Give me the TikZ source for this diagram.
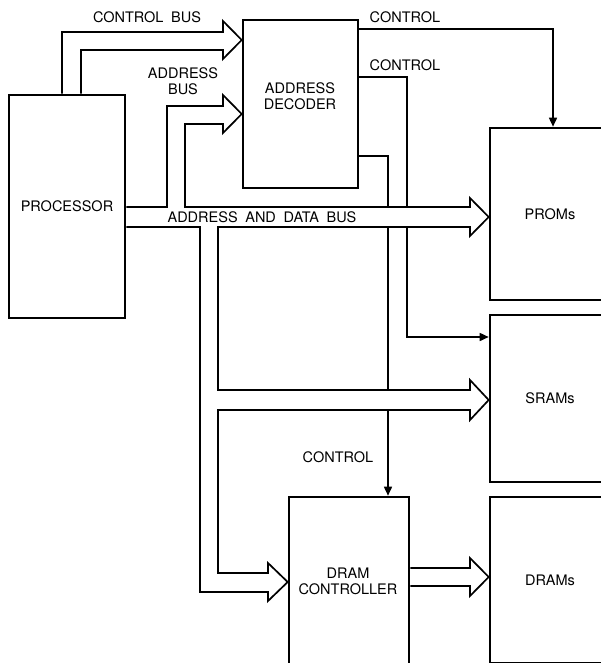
\documentclass[tikz,border=0pt]{standalone}
\usepackage{fontspec}
\setmainfont{TeX Gyre Heros}[WordSpace=1.9]
\usepackage{tikz}
\usetikzlibrary{arrows.meta}

\begin{document}
\begin{tikzpicture}[x=1pt, y=-1pt,
    font=\fontsize{14.5}{16}\selectfont,
    unit/.style={draw, line width=2.6pt, inner sep=0pt, align=center},
    lbl/.style={inner sep=0pt, align=center},
    bus/.style={draw, line width=1.7pt, fill=white, line join=miter},
    ctl/.style={draw, line width=1.6pt, -{Triangle[length=9pt, width=8pt]}}]
  \useasboundingbox (0,0) rectangle (601,663);
  \clip (0,0) rectangle (601,663);

  % blocks
  \node[unit, minimum width=116pt, minimum height=223pt] (proc) at (67,206.5) {PROCESSOR};
  \node[unit, minimum width=115pt, minimum height=168pt] (dec) at (300.5,104) {};
  \node[unit, minimum width=120pt, minimum height=172pt] (proms) at (550,214) {PROMs};
  \node[unit, minimum width=120pt, minimum height=167pt] (srams) at (550,398.5) {SRAMs};
  \node[unit, minimum width=120pt, minimum height=166pt] (drams) at (550,580) {DRAMs};
  \node[unit, minimum width=120pt, minimum height=173pt] (ctrl) at (349,583.5) {};
  \node[lbl] (dectext) at (300,96) {ADDRESS\\DECODER};
  \node[lbl] (ctrltext) at (348,581) {DRAM\\CONTROLLER};

  % control lines from the decoder
  \draw[ctl] (dec.east |- 0,29) -| (proms.north -| 553,0);
  \draw[ctl] (dec.east |- 0,77) -| (407,337) -- (srams.west |- 0,337);
  \draw[ctl] (dec.east |- 0,156) -| (ctrl.north -| 388,0);

  % control bus
  \draw[bus, fill=none] (proc.north -| 62,0) |- (223,32) -- (223,21) -- (dec.west |- 0,40)
    -- (223,59) -- (223,50) -| (proc.north -| 81,0);

  % address bus + address and data bus
  \draw[bus] (proc.east |- 0,207) -| (167,106) -- (223,106) -- (223,95) -- (dec.west |- 0,114)
    -- (223,133) -- (223,124) -| (185,207) -- (470,207) -- (470,198) -- (proms.west |- 0,217)
    -- (470,236) -- (470,227) -| (218,390) -- (470,390) -- (470,380) -- (srams.west |- 0,400)
    -- (470,420) -- (470,410) -| (218,573) -- (268,573) -- (268,563) -- (ctrl.west |- 0,582)
    -- (268,601) -- (268,592) -| (200,227) -- (proc.east |- 0,227);

  % DRAM bus
  \draw[bus] (ctrl.east |- 0,568) -- (470,568) -- (470,558) -- (drams.west |- 0,577)
    -- (470,596) -- (470,586) -- (ctrl.east |- 0,586);

  % labels
  \node[lbl] (cbus) at (147,17) {CONTROL BUS};
  \node[lbl] (abus) at (183,81) {ADDRESS\\BUS};
  \node[lbl] (adbus) at (262,217) {ADDRESS AND DATA BUS};
  \node[lbl] (ctl1) at (405,17) {CONTROL};
  \node[lbl] (ctl2) at (405,65) {CONTROL};
  \node[lbl] (ctl3) at (338,457) {CONTROL};
\end{tikzpicture}
\end{document}
